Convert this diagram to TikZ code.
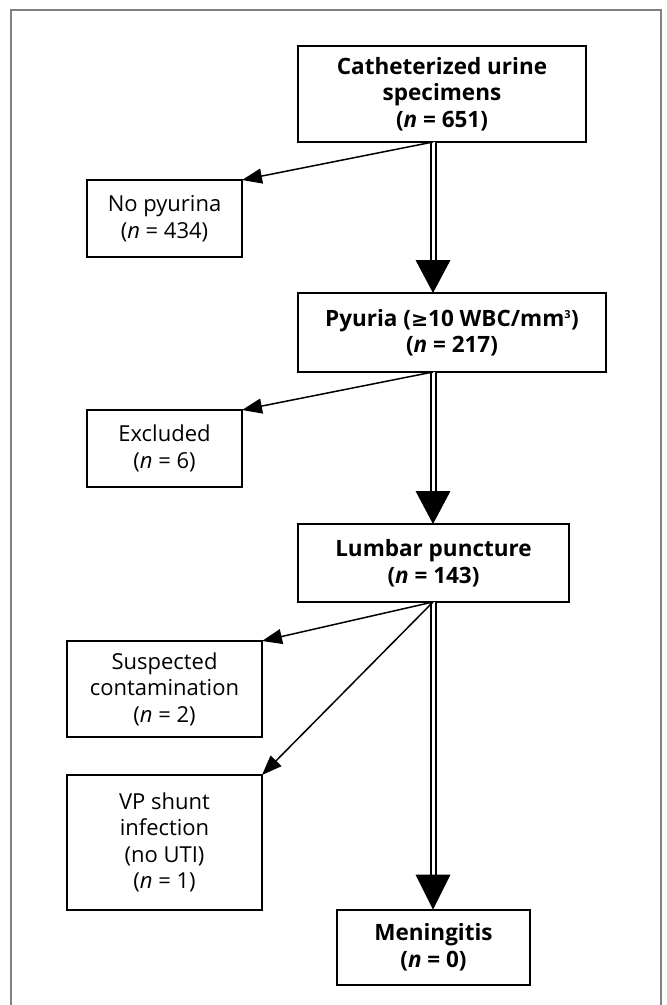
\documentclass[tikz,border=0pt]{standalone}
\usepackage{fontspec}
\setmainfont{Open Sans}
\newfontfamily\symf{DejaVu Sans}
\usetikzlibrary{arrows.meta,calc}
\begin{document}
\begin{tikzpicture}[x=1pt,y=-1pt,
 box/.style={draw=black, line width=2pt, rectangle, align=center, inner sep=0pt, outer sep=0pt, font=\fontsize{22}{26.5}\selectfont},
 mainbox/.style={box, font=\fontsize{22.5}{26.5}\selectfont\bfseries},
 sidearrow/.style={line width=1.5pt, -{Triangle[length=20pt,width=15pt]}},
 dbl/.style={double=white, double distance=3pt, line width=2pt},
 head/.style={fill=black}]
\useasboundingbox (0,0) rectangle (667,1005);
\draw[color=gray, line width=1.5pt] (11,1005) -- (11,10) -- (661,10) -- (661,1005);
\coordinate (col) at (433,0);

\node[mainbox, minimum width=288pt, minimum height=96pt] (cath) at (442,94) {Catheterized urine\\specimens\\(\textit{n} = 651)};
\node[box, minimum width=155pt, minimum height=77pt] (nop) at (164.5,218.5) {No pyurina\\(\textit{n} = 434)};
\node[mainbox, minimum width=308pt, minimum height=79pt] (pyu) at (452,332.5) {Pyuria ({\symf\bfseries\fontsize{20.5}{26}\selectfont ≥}10 WBC/mm\textsuperscript{\fontsize{11}{12}\selectfont 3})\\(\textit{n} = 217)};
\node[box, minimum width=155pt, minimum height=77pt] (exc) at (164.5,448.5) {Excluded\\(\textit{n} = 6)};
\node[mainbox, minimum width=271pt, minimum height=78pt] (lum) at (433.5,563) {Lumbar puncture\\(\textit{n} = 143)};
\node[box, minimum width=195pt, minimum height=96pt] (sus) at (164.5,689) {Suspected\\contamination\\(\textit{n} = 2)};
\node[box, minimum width=195pt, minimum height=135pt] (vp) at (164.5,842.5) {VP shunt\\infection\\(no UTI)\\(\textit{n} = 1)};
\node[mainbox, minimum width=193pt, minimum height=75pt] (men) at (433.5,947) {Meningitis\\(\textit{n} = 0)};

% main flow double arrows
\draw[dbl] (cath.south -| col) -- ($(pyu.north -| col)+(0,-33)$);
\fill[head] (pyu.north -| col) -- ++(-17.5,-33) -- ++(35,0) -- cycle;
\draw[dbl] (pyu.south -| col) -- ($(lum.north -| col)+(0,-33)$);
\fill[head] (lum.north -| col) -- ++(-17.5,-33) -- ++(35,0) -- cycle;
\draw[dbl] (lum.south -| col) -- ($(men.north -| col)+(0,-35)$);
\fill[head] (men.north -| col) -- ++(-17.5,-35) -- ++(35,0) -- cycle;

% side arrows
\draw[sidearrow] (cath.south -| col) -- (nop.north east);
\draw[sidearrow] (pyu.south -| col) -- (exc.north east);
\draw[sidearrow] (lum.south -| col) -- (sus.north east);
\draw[sidearrow] (lum.south -| col) -- (vp.north east);
\end{tikzpicture}
\end{document}
